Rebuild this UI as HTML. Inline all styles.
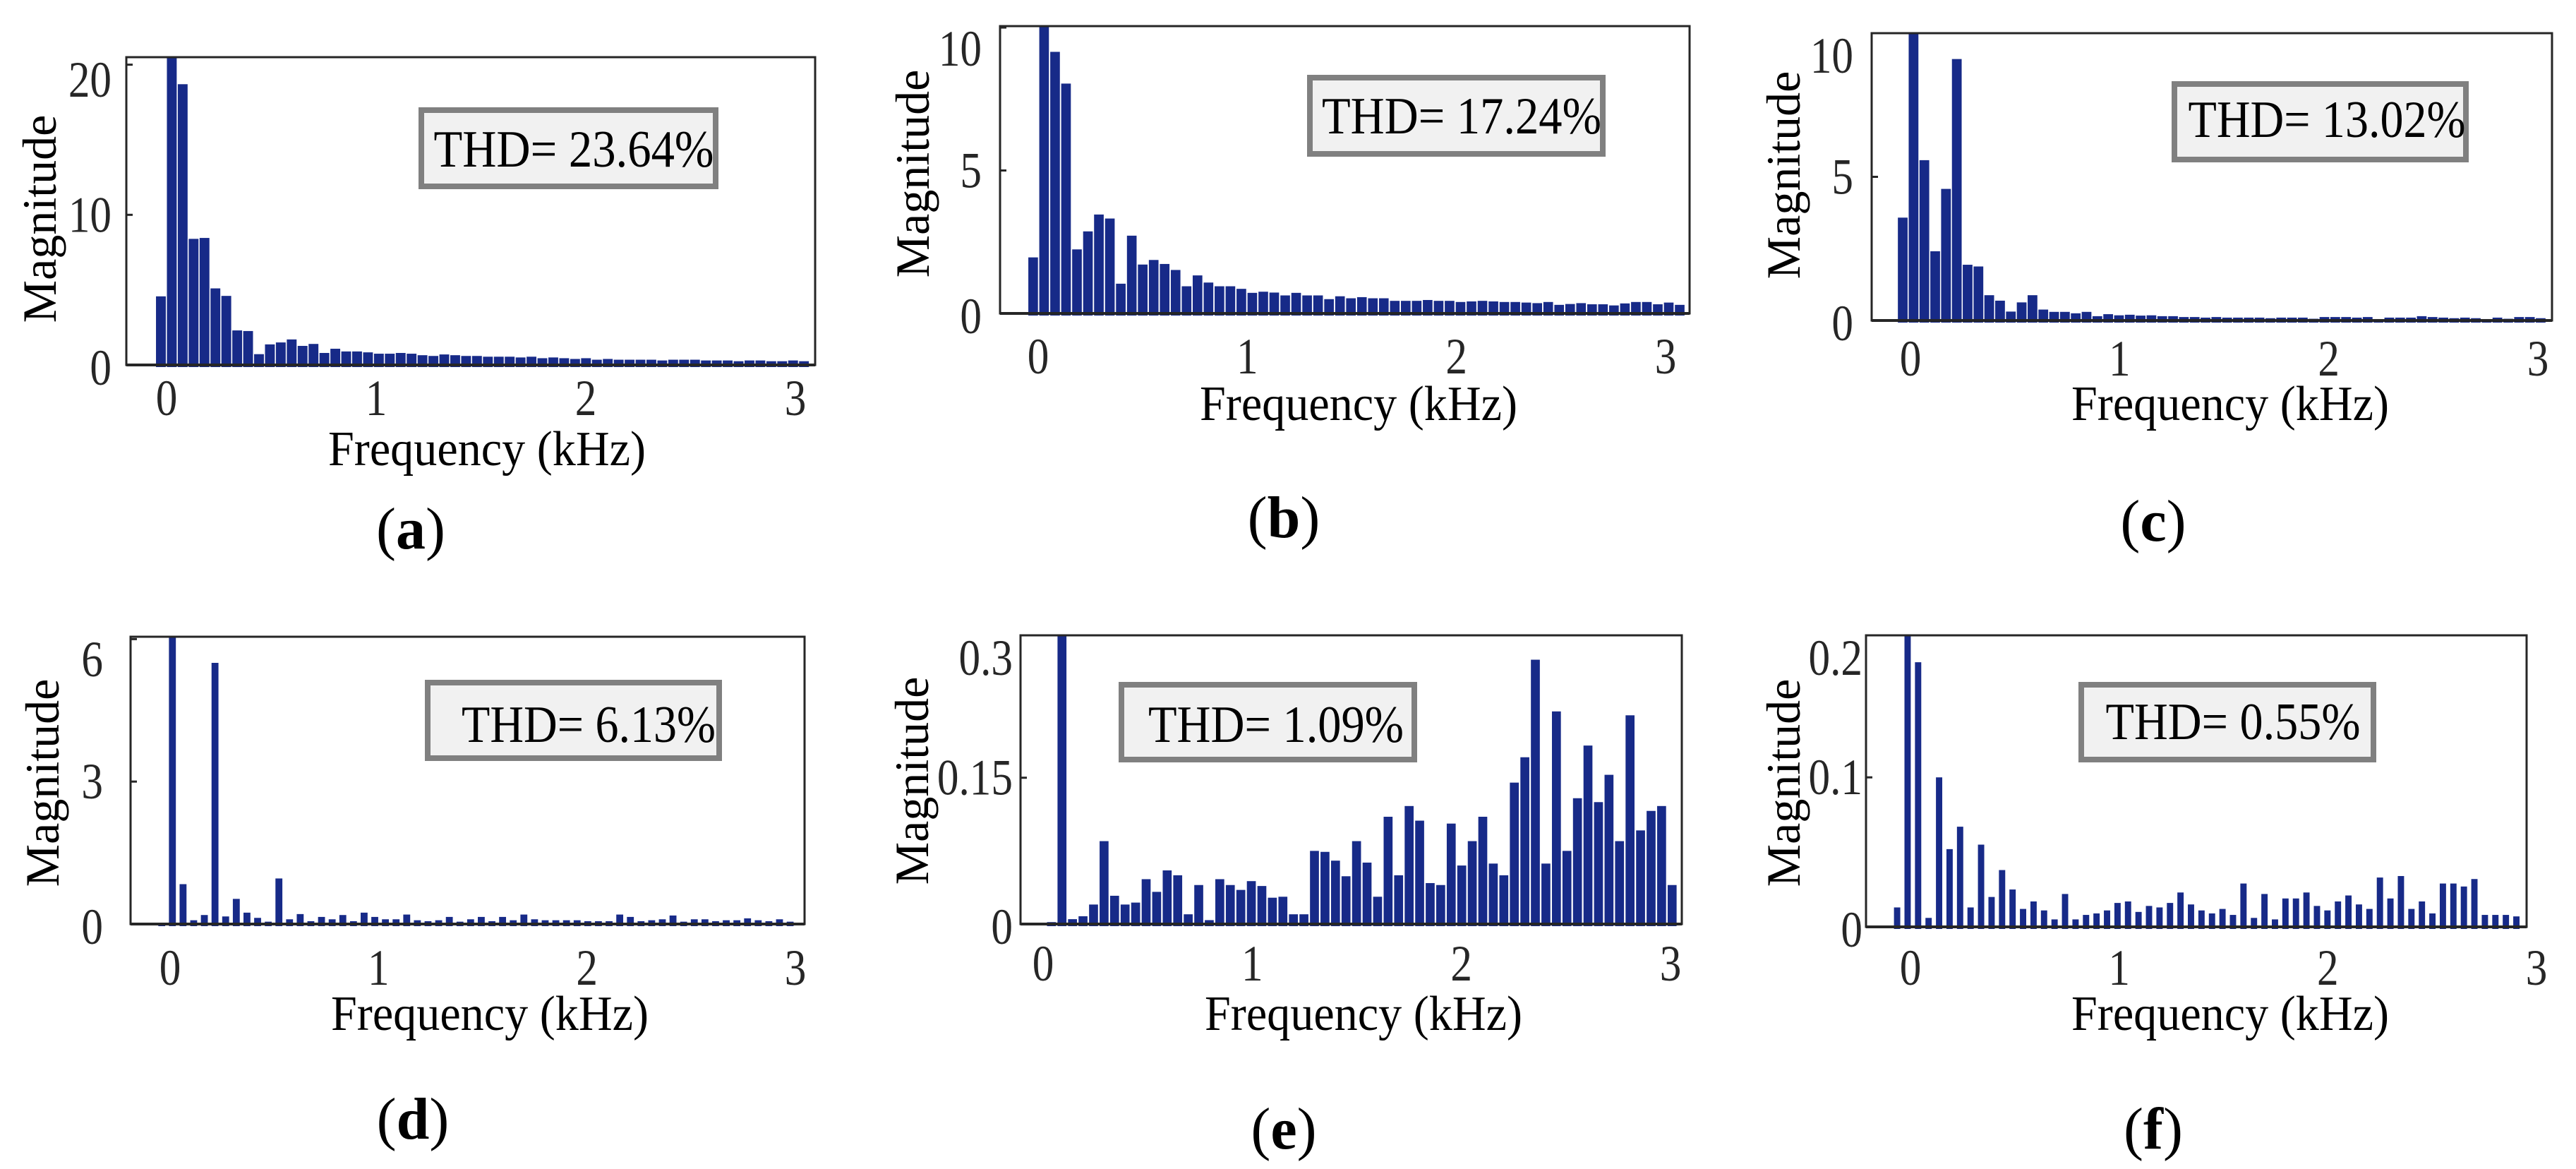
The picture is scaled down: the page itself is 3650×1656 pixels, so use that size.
<!DOCTYPE html>
<html><head><meta charset="utf-8"><style>
html,body{margin:0;padding:0;background:#fff;}
svg{display:block;font-family:"Liberation Serif",serif;}
</style></head><body>
<svg id="fig" xmlns="http://www.w3.org/2000/svg" width="3650" height="1656" viewBox="0 0 3650 1656"></svg>
<script>
// ---- data ----
const harmonicIndex = [0,1,2,3,4,5,6,7,8,9,10,11,12,13,14,15,16,17,18,19,20,21,22,23,24,25,26,27,28,29,30,31,32,33,34,35,36,37,38,39,40,41,42,43,44,45,46,47,48,49,50,51,52,53,54,55,56,57,58,59];
const magA = [4.57,20.5,18.7,8.4,8.46,5.1,4.6,2.3,2.26,0.72,1.37,1.5,1.7,1.27,1.4,0.8,1.08,0.9,0.9,0.84,0.75,0.75,0.8,0.75,0.65,0.6,0.7,0.65,0.6,0.6,0.55,0.55,0.55,0.5,0.55,0.45,0.5,0.45,0.4,0.45,0.35,0.4,0.35,0.35,0.35,0.35,0.3,0.35,0.35,0.35,0.3,0.3,0.3,0.25,0.3,0.3,0.25,0.25,0.3,0.25];
const magB = [1.96,10.1,9.15,8.04,2.24,2.87,3.46,3.32,1.04,2.72,1.71,1.87,1.73,1.52,0.95,1.33,1.08,0.95,0.95,0.86,0.72,0.76,0.73,0.63,0.72,0.63,0.63,0.5,0.6,0.53,0.57,0.53,0.53,0.44,0.44,0.44,0.47,0.44,0.44,0.4,0.42,0.44,0.42,0.4,0.4,0.38,0.36,0.4,0.3,0.33,0.36,0.32,0.32,0.28,0.35,0.4,0.4,0.32,0.38,0.3];
const magC = [3.58,10.0,5.58,2.41,4.58,9.1,1.94,1.88,0.88,0.69,0.31,0.63,0.88,0.38,0.3,0.3,0.25,0.3,0.15,0.22,0.18,0.2,0.17,0.18,0.15,0.15,0.12,0.12,0.1,0.12,0.1,0.1,0.1,0.1,0.08,0.1,0.1,0.1,0.06,0.12,0.12,0.12,0.1,0.12,0.05,0.1,0.1,0.1,0.15,0.12,0.1,0.08,0.1,0.08,0.05,0.1,0.06,0.12,0.12,0.08];
const magD = [0.02,6.1,0.84,0.08,0.19,5.5,0.16,0.53,0.24,0.13,0.05,0.96,0.1,0.21,0.06,0.15,0.1,0.19,0.06,0.24,0.15,0.1,0.1,0.2,0.08,0.06,0.08,0.15,0.05,0.1,0.15,0.06,0.15,0.08,0.2,0.1,0.08,0.08,0.08,0.08,0.06,0.06,0.06,0.2,0.15,0.06,0.08,0.1,0.18,0.05,0.1,0.1,0.06,0.08,0.08,0.12,0.08,0.06,0.1,0.05];
const magE = [0.002,0.30,0.005,0.008,0.02,0.085,0.029,0.02,0.022,0.046,0.033,0.055,0.05,0.01,0.04,0.004,0.046,0.04,0.035,0.044,0.039,0.027,0.028,0.01,0.01,0.075,0.074,0.065,0.049,0.085,0.063,0.028,0.11,0.05,0.121,0.106,0.042,0.04,0.103,0.06,0.085,0.11,0.062,0.05,0.145,0.171,0.271,0.062,0.218,0.075,0.129,0.183,0.125,0.153,0.085,0.214,0.096,0.116,0.121,0.04];
const magF = [0.013,0.195,0.177,0.006,0.1,0.052,0.067,0.013,0.055,0.02,0.038,0.025,0.012,0.017,0.011,0.005,0.022,0.005,0.008,0.009,0.011,0.016,0.017,0.01,0.014,0.013,0.016,0.023,0.015,0.011,0.009,0.012,0.008,0.029,0.006,0.022,0.005,0.019,0.019,0.023,0.014,0.011,0.017,0.021,0.015,0.012,0.033,0.019,0.034,0.012,0.017,0.009,0.029,0.029,0.027,0.032,0.008,0.008,0.008,0.007];
const yTicksA = [0,10,20], yTicksB = [0,5,10], yTicksC = [0,5,10], yTicksD = [0,3,6], yTicksE = [0,0.15,0.3], yTicksF = [0,0.1,0.2];
const yTickLabelsE = ["0","0.15","0.3"], yTickLabelsF = ["0","0.1","0.2"];
const xTicks = [0,1,2,3];
const thdLabels = ["THD= 23.64%","THD= 17.24%","THD= 13.02%","THD= 6.13%","THD= 1.09%","THD= 0.55%"];
const captions = ["a","b","c","d","e","f"];

// ---- layout ----
const panels = [
 {id:"a",mag:magA,yt:yTicksA,yl:null,ymax:20.5,box:[179,81,1155,517],x0px:236,x3px:1127,f0:-0.027,df:0.052,bw:0.9,
  thdBox:[597,156,1014,264],thdX:813,thdY:236,thdW:397,ylx:158,xly:564,magX:55,magY:310,fx:690,fy:659,capX:582,capY:749},
 {id:"b",mag:magB,yt:yTicksB,yl:null,ymax:10.05,box:[1417,37,2394,444],x0px:1471,x3px:2360,f0:-0.024,df:0.0524,bw:0.88,
  thdBox:[1856,110,2271,218],thdX:2071,thdY:189,thdW:396,ylx:1391,xly:505,magX:1292,magY:246,fx:1925,fy:595,capX:1819,capY:733},
 {id:"c",mag:magC,yt:yTicksC,yl:null,ymax:10.0,box:[2652,47,3616,454],x0px:2707,x3px:3596,f0:-0.037,df:0.0517,bw:0.9,
  thdBox:[3081,119,3494,226],thdX:3297,thdY:194,thdW:393,ylx:2626,xly:508,magX:2526,magY:248,fx:3160,fy:595,capX:3051,capY:738},
 {id:"d",mag:magD,yt:yTicksD,yl:null,ymax:6.05,box:[185,902,1140,1309],x0px:241,x3px:1127,f0:-0.04,df:0.0511,bw:0.65,
  thdBox:[606,967,1019,1074],thdX:834,thdY:1051,thdW:360,ylx:146,xly:1371,magX:59,magY:1109,fx:694,fy:1459,capX:585,capY:1585},
 {id:"e",mag:magE,yt:yTicksE,yl:yTickLabelsE,ymax:0.296,box:[1446,900,2383,1309],x0px:1478,x3px:2367,f0:0.04,df:0.0503,bw:0.85,
  thdBox:[1589,970,2004,1076],thdX:1808,thdY:1051,thdW:362,ylx:1435,xly:1365,magX:1291,magY:1106,fx:1932,fy:1459,capX:1819,capY:1599},
 {id:"f",mag:magF,yt:yTicksF,yl:yTickLabelsF,ymax:0.195,box:[2644,900,3580,1313],x0px:2707,x3px:3594,f0:-0.064,df:0.0503,bw:0.6,
  thdBox:[2949,970,3363,1076],thdX:3164,thdY:1047,thdW:361,ylx:2639,xly:1371,magX:2526,magY:1109,fx:3160,fy:1459,capX:3051,capY:1599}
];

const NS="http://www.w3.org/2000/svg";
const svg=document.getElementById('fig');
function mk(tag,attrs,parent){const e=document.createElementNS(NS,tag);for(const k in attrs)e.setAttribute(k,attrs[k]);(parent||svg).appendChild(e);return e;}

panels.forEach((p,pi)=>{
  const g=mk('g',{});
  
  
  const [L,T,R,B]=p.box;
  const xs=f=>p.x0px+(p.x3px-p.x0px)*f/3;
  const ys=v=>B-(B-T)*v/p.ymax;
  const step=(p.x3px-p.x0px)/3*p.df;
  const clip=mk('clipPath',{id:'clip'+p.id},g);
  mk('rect',{x:L-20,y:T,width:R-L+40,height:B-T+10},clip);
  const bars=mk('g',{'clip-path':'url(#clip'+p.id+')'},g);
  
  
  harmonicIndex.forEach((h,i)=>{
    const f=p.f0+h*p.df;
    const cx=xs(f);
    const w=step*p.bw;
    const top=ys(p.mag[i]);
    const r=mk('rect',{x:(cx-w/2).toFixed(2),y:top.toFixed(2),width:w.toFixed(2),height:Math.max(0,B+3-top).toFixed(2),fill:'#172a88'},bars);
    
    
  });
  const frame=mk('rect',{x:L,y:T,width:R-L,height:B-T,fill:'none',stroke:'#262626','stroke-width':3},g);
  
  
  const base=mk('line',{x1:L,y1:B,x2:R,y2:B,stroke:'#262626','stroke-width':4},g);
  
  
  p.yt.forEach((v,k)=>{
    let cy=ys(v); if(k===0) cy+=4; cy=Math.max(cy,T+32);
    if(ys(v)>=T+2 && ys(v)<=B-2){
      const tm=mk('line',{x1:L,y1:ys(v),x2:L+9,y2:ys(v),stroke:'#262626','stroke-width':3},g);
      
      
    }
    const t=mk('text',{transform:`translate(${p.ylx},${cy+24}) scale(0.85,1)`,'text-anchor':'end','font-size':72,fill:'#262626'},g);
    t.textContent=p.yl?p.yl[k]:String(v);
    
    
  });
  xTicks.forEach(v=>{
    const t=mk('text',{transform:`translate(${xs(v)},${p.xly+24}) scale(0.85,1)`,'text-anchor':'middle','font-size':72,fill:'#262626'},g);
    t.textContent=String(v);
    
    
  });
  const yt=mk('text',{transform:`translate(${p.magX+24},${p.magY}) rotate(-90)`,'text-anchor':'middle','font-size':68,fill:'#000'},g);
  yt.textContent='Magnitude';
  
  
  const xt=mk('text',{x:p.fx,y:p.fy,'text-anchor':'middle','font-size':70,fill:'#000',textLength:450,lengthAdjust:'spacingAndGlyphs'},g);
  xt.textContent='Frequency (kHz)';
  
  
  const [bx1,by1,bx2,by2]=p.thdBox;
  const lg=mk('g',{},g);
  
  
  mk('rect',{x:bx1,y:by1,width:bx2-bx1,height:by2-by1,fill:'#f1f1f1',stroke:'#808080','stroke-width':8},lg);
  const tt=mk('text',{x:p.thdX,y:p.thdY,'text-anchor':'middle','font-size':74,fill:'#000',textLength:p.thdW,lengthAdjust:'spacingAndGlyphs'},lg);
  tt.textContent=thdLabels[pi];
  const cap=mk('text',{x:p.capX,y:p.capY+28,'text-anchor':'middle','font-size':84,fill:'#000'},g);
  
  
  mk('tspan',{},cap).textContent='(';
  mk('tspan',{'font-weight':'bold'},cap).textContent=captions[pi];
  mk('tspan',{},cap).textContent=')';
});
</script>
</body></html>
